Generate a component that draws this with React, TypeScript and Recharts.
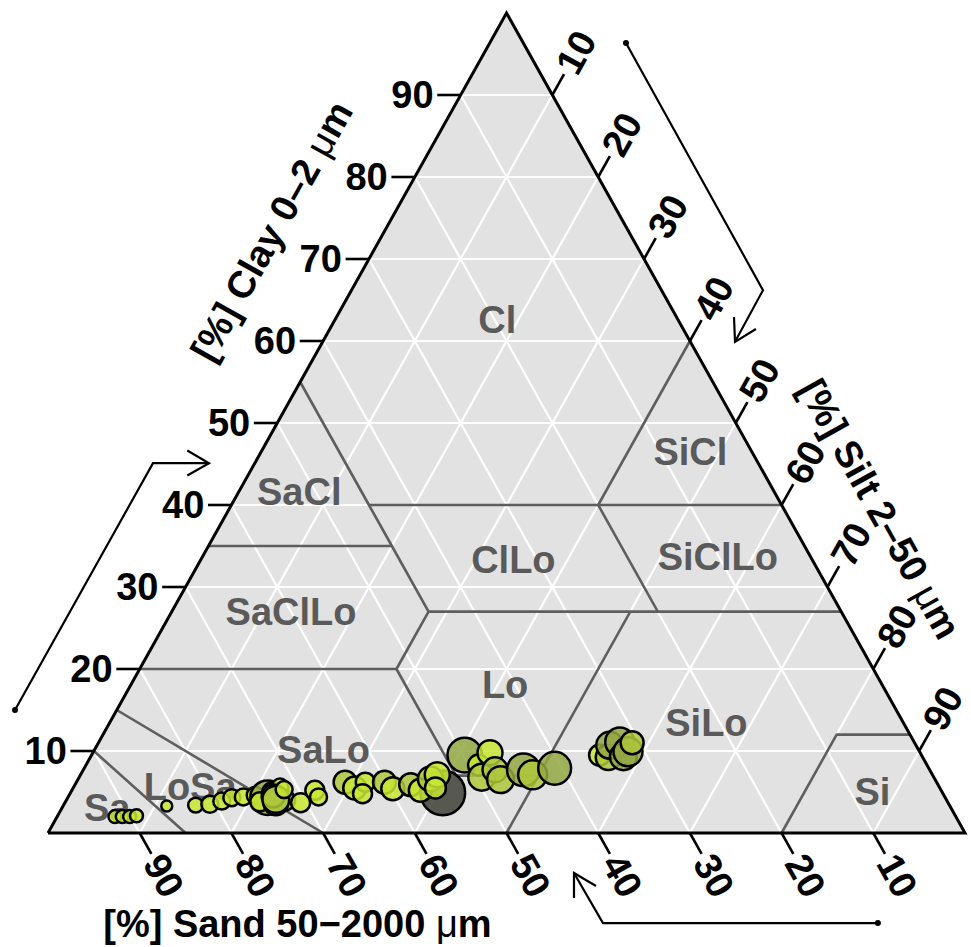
import React from "react";
import { ComposedChart, XAxis, YAxis, Area, Scatter } from "recharts";

// ---- data ----------------------------------------------------------------
const TICKS = [10, 20, 30, 40, 50, 60, 70, 80, 90];

// samples: clay %, silt % (sand = the rest), bubble weight, colour group
const CLAY = [
  2.0, 2.0, 2.0, 2.1, 3.3, 3.4, 3.5, 3.9, 4.3, 4.4, 4.6, 4.3, 3.8, 5.0, 5.6, 4.0,
  3.7, 4.5, 4.1, 5.3, 3.7, 5.2, 4.4, 6.2, 5.5, 6.2, 4.8, 6.2, 5.4, 5.9, 4.9, 5.2,
  6.6, 7.1, 5.5, 9.5, 8.3, 6.8, 9.8, 7.7, 6.5, 7.7, 7.1, 7.9, 9.5, 9.2, 10.7, 11.1,
  9.3, 9.9, 11.0,
];
const SILT = [
  6.3, 7.1, 7.9, 8.6, 11.3, 14.4, 15.9, 17.0, 17.9, 19.1, 20.3, 21.8, 21.2, 21.9, 22.5, 23.8,
  23.0, 22.3, 22.8, 23.1, 25.7, 26.5, 27.3, 29.3, 30.7, 31.5, 31.9, 33.6, 34.9, 36.6, 40.6, 38.0,
  38.4, 38.9, 39.5, 40.7, 42.8, 43.9, 43.3, 44.9, 46.1, 48.0, 49.3, 51.3, 55.4, 56.5, 55.9, 56.8,
  58.1, 58.3, 58.2,
];
const WEIGHT = [
  42, 42, 42, 42, 30, 56, 72, 72, 72, 72, 72, 300, 90, 90, 72, 110,
  156, 132, 180, 72, 90, 90, 72, 132, 132, 90, 90, 132, 132, 132, 500, 132,
  156, 156, 110, 300, 110, 180, 156, 156, 180, 270, 210, 270, 110, 156, 180, 210,
  180, 210, 132,
];
const GROUP = [
  0, 0, 0, 0, 0, 0, 0, 0, 0, 0, 0, 2, 0, 0, 0, 1,
  1, 1, 1, 0, 0, 0, 0, 1, 0, 0, 0, 1, 0, 1, 3, 0,
  1, 0, 0, 2, 0, 1, 0, 1, 1, 2, 1, 2, 0, 1, 2, 2,
  2, 2, 1,
];
const GROUP_COLORS = ["#c8e633", "#aec83c", "#93a843", "#3e4137"];

// USDA texture class boundaries as (clay, silt) polylines
const CLASS_LINES: [number, number][][] = [
  [[55, 0], [40, 15], [35, 20], [27, 28], [20, 28], [7, 41], [7, 50]],
  [[40, 15], [40, 60]],
  [[60, 40], [40, 40], [27, 53]],
  [[27, 28], [27, 73]],
  [[27, 50], [0, 50]],
  [[35, 0], [35, 20]],
  [[20, 0], [20, 28]],
  [[15, 0], [0, 30]],
  [[10, 0], [0, 15]],
  [[12, 88], [12, 80], [0, 80]],
];

const CLASS_NAMES = ["Cl", "SiCl", "SaCl", "ClLo", "SiClLo", "SaClLo", "Lo", "SiLo", "SaLo", "LoSa", "Sa", "Si"];
const CLASS_CLAY = [62.6, 46.5, 41.6, 33.3, 33.7, 27.0, 18.1, 13.4, 10.1, 5.6, 3.1, 5.0];
const CLASS_SILT = [17.7, 46.8, 6.6, 34.1, 56.2, 13.0, 40.8, 65.1, 25.0, 12.7, 4.9, 87.4];

// direction arrows (plane coords: x along base, y = clay)
const ARROWS: [number, number][][] = [
  [[-3.6, 15.0], [11.45, 45.1], [17.56, 45.1]],
  [[63.03, 96.34], [77.97, 66.2], [74.92, 59.9]],
  [[90.5, -10.98], [60.52, -10.98], [57.36, -4.88]],
];
const ARROW_HEADS: [number, number][][] = [
  [[15.19, 46.65], [17.56, 45.1], [15.19, 43.6]],
  [[77.2, 61.46], [74.92, 59.9], [74.81, 62.93]],
  [[59.76, -6.46], [57.36, -4.88], [57.36, -7.93]],
];

// ---- layout --------------------------------------------------------------
const W = 971;
const H = 947;
const TRI = { left: 48, right: 965, top: 13, bottom: 833 };
const SX = (TRI.right - TRI.left) / 100;
const SY = (TRI.bottom - TRI.top) / 100;
const X_DOMAIN: [number, number] = [-TRI.left / SX, (W - TRI.left) / SX];
const Y_DOMAIN: [number, number] = [-(H - TRI.bottom) / SY, TRI.bottom / SY];
const ANGLE = (Math.atan2(TRI.bottom - TRI.top, (TRI.right - TRI.left) / 2) * 180) / Math.PI;
const FONT = '"Liberation Sans", Arial, Helvetica, sans-serif';
const TICK_LEN = 2.55;
const LABEL_GAP = 2.95;

type P = { x: number; y: number };
const plane = (clay: number, silt: number): P => ({ x: silt + clay / 2, y: clay });
const pt = ([x, y]: [number, number]): P => ({ x, y });

const triangleFill = [plane(0, 0), plane(100, 0), plane(0, 100)];
const outline = [plane(0, 0), plane(100, 0), plane(0, 100), plane(0, 0)];

const gridLines: P[][] = TICKS.flatMap((k) => [
  [plane(k, 0), plane(k, 100 - k)],
  [plane(0, k), plane(100 - k, k)],
  [plane(0, 100 - k), plane(100 - k, 0)],
]);

const tickLines: P[][] = TICKS.flatMap((k) => {
  const c = plane(k, 0);
  const s = plane(100 - k, k);
  const a = plane(0, 100 - k);
  return [
    [c, { x: c.x - TICK_LEN, y: c.y }],
    [s, { x: s.x + TICK_LEN / 2, y: s.y + TICK_LEN }],
    [a, { x: a.x + TICK_LEN / 2, y: a.y - TICK_LEN }],
  ];
});

const clayLabels = TICKS.map((k) => {
  const c = plane(k, 0);
  return { x: c.x - LABEL_GAP, y: c.y, label: String(k), anchor: "end", angle: 0 };
});
const siltLabels = TICKS.map((k) => {
  const s = plane(100 - k, k);
  return { x: s.x + LABEL_GAP / 2, y: s.y + LABEL_GAP, label: String(k), anchor: "start", angle: -ANGLE };
});
const sandLabels = TICKS.map((k) => {
  const a = plane(0, 100 - k);
  return { x: a.x + LABEL_GAP / 2, y: a.y - LABEL_GAP, label: String(k), anchor: "start", angle: ANGLE };
});

const titles = [
  { x: 24.4, y: 73.4, label: "[%] Clay 0–2 ", anchor: "middle", angle: -ANGLE },
  { x: 90.7, y: 39.5, label: "[%] Silt 2–50 ", anchor: "middle", angle: ANGLE },
  { x: 27.2, y: -11.1, label: "[%] Sand 50−2000 ", anchor: "middle", angle: 0 },
];

const classLabels = CLASS_NAMES.map((name, i) => ({ ...plane(CLASS_CLAY[i], CLASS_SILT[i]), label: name }));

const samples = CLAY.map((c, i) => ({ ...plane(c, SILT[i]), z: WEIGHT[i], group: GROUP[i] }));

const arrowLines = [...ARROWS, ...ARROW_HEADS].map((line) => line.map(pt));
const arrowDots = ARROWS.map((a) => pt(a[0]));

// ---- shapes --------------------------------------------------------------
const noMark = () => <g />;

const tickText = (p: any) => {
  const d = p.payload;
  return (
    <text
      x={p.cx}
      y={p.cy}
      fontFamily={FONT}
      fontWeight="bold"
      fontSize={38}
      fill="#000"
      textAnchor={d.anchor}
      dominantBaseline="central"
      transform={d.angle ? `rotate(${d.angle} ${p.cx} ${p.cy})` : undefined}
    >
      {d.label}
    </text>
  );
};

const titleText = (p: any) => {
  const d = p.payload;
  return (
    <text
      x={p.cx}
      y={p.cy}
      fontFamily={FONT}
      fontWeight="bold"
      fontSize={38}
      fill="#000"
      textAnchor={d.anchor}
      dominantBaseline="central"
      transform={d.angle ? `rotate(${d.angle} ${p.cx} ${p.cy})` : undefined}
    >
      {d.label}
      <tspan fontWeight="normal">μ</tspan>
      <tspan>m</tspan>
    </text>
  );
};

const classText = (p: any) => (
  <text
    x={p.cx}
    y={p.cy}
    fontFamily={FONT}
    fontWeight="bold"
    fontSize={38}
    fill="#5a5a5a"
    textAnchor="middle"
    dominantBaseline="central"
  >
    {p.payload.label}
  </text>
);

// bubble area proportional to the sample weight
const bubble = (p: any) => (
  <circle
    cx={p.cx}
    cy={p.cy}
    r={Math.sqrt(p.payload.z)}
    fill={GROUP_COLORS[p.payload.group]}
    fillOpacity={0.85}
    stroke="#000"
    strokeWidth={2.5}
  />
);

const dotShape = (p: any) => <circle cx={p.cx} cy={p.cy} r={3} fill="#000" />;

export default function App() {
  return (
    <div style={{ position: "absolute", left: 0, top: 0, background: "#fff" }}>
      <ComposedChart width={W} height={H} data={triangleFill} margin={{ top: 0, right: 0, bottom: 0, left: 0 }}>
        <XAxis type="number" dataKey="x" domain={X_DOMAIN} allowDataOverflow hide />
        <YAxis type="number" dataKey="y" domain={Y_DOMAIN} allowDataOverflow hide />

        {/* grey triangle */}
        <Area type="linear" dataKey="y" baseValue={0} fill="#e2e2e2" fillOpacity={1} stroke="none" isAnimationActive={false} />

        {/* white 10 % grid */}
        {gridLines.map((line, i) => (
          <Scatter key={`g${i}`} data={line} line={{ stroke: "#fff", strokeWidth: 2.2 }} lineType="joint" shape={noMark} isAnimationActive={false} />
        ))}

        {/* texture class boundaries */}
        {CLASS_LINES.map((line, i) => (
          <Scatter
            key={`c${i}`}
            data={line.map(([c, s]) => plane(c, s))}
            line={{ stroke: "#5e5e5e", strokeWidth: 2.6, strokeLinejoin: "round" }}
            lineType="joint"
            shape={noMark}
            isAnimationActive={false}
          />
        ))}

        {/* outline and ticks */}
        <Scatter data={outline} line={{ stroke: "#000", strokeWidth: 3, strokeLinejoin: "miter" }} lineType="joint" shape={noMark} isAnimationActive={false} />
        {tickLines.map((line, i) => (
          <Scatter key={`t${i}`} data={line} line={{ stroke: "#000", strokeWidth: 2.6 }} lineType="joint" shape={noMark} isAnimationActive={false} />
        ))}

        {/* arrows */}
        {arrowLines.map((line, i) => (
          <Scatter key={`a${i}`} data={line} line={{ stroke: "#000", strokeWidth: 2.2 }} lineType="joint" shape={noMark} isAnimationActive={false} />
        ))}
        <Scatter data={arrowDots} shape={dotShape} isAnimationActive={false} />

        {/* class names */}
        <Scatter data={classLabels} shape={classText} isAnimationActive={false} />

        {/* samples */}
        <Scatter data={samples} shape={bubble} isAnimationActive={false} />

        {/* tick labels and titles */}
        <Scatter data={clayLabels} shape={tickText} isAnimationActive={false} />
        <Scatter data={siltLabels} shape={tickText} isAnimationActive={false} />
        <Scatter data={sandLabels} shape={tickText} isAnimationActive={false} />
        <Scatter data={titles} shape={titleText} isAnimationActive={false} />
      </ComposedChart>
    </div>
  );
}
